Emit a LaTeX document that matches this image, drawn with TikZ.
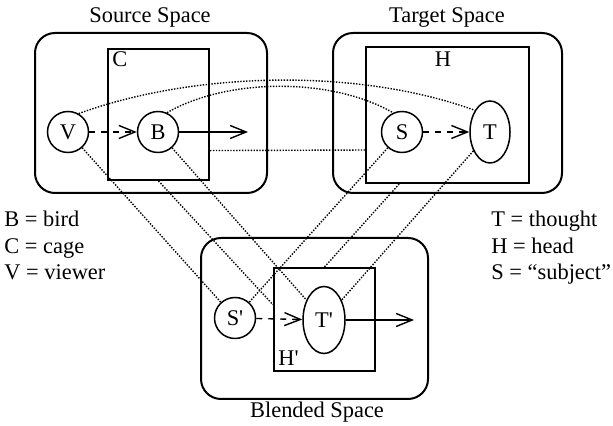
\documentclass[tikz,border=0pt]{standalone}
\usepackage{fontspec}
\setmainfont{Liberation Serif}
\usetikzlibrary{arrows.meta,shapes.geometric}

\begin{document}
\begin{tikzpicture}[x=0.5pt,y=0.5pt,font=\fontsize{11.2}{13.25}\selectfont]
                \tikzset{space/.style={draw,line width=1pt,rounded corners=10pt},
                frame/.style={draw,rectangle,line width=1pt,inner sep=0pt},
                elem/.style={draw,circle,line width=0.75pt,minimum size=20.5pt,inner sep=0pt},
                idea/.style={draw,ellipse,line width=0.75pt,minimum width=20pt,minimum height=31pt,inner sep=0pt},
                map/.style={line width=0.7pt,dash pattern=on 0.7pt off 0.75pt},
                key/.style={anchor=base west,inner sep=0pt},
                >={Straight Barb[length=8pt,width=6.5pt]}}

                \useasboundingbox (0,0) rectangle (613,426);

                \draw[space] (35,233) rectangle (267,393);
                \node[anchor=base] (srctitle) at (150,403) {Source Space};
                \node[frame,minimum width=50.5pt,minimum height=65.5pt] (C) at (158.5,311.5) {};
                \node[key] (Clbl) at (112,359) {C};
                \node[elem] (V) at (68,294) {V};
                \node[elem] (B) at (158,294) {B};
                \coordinate (Bend) at (248,294);

                \draw[space] (333,233) rectangle (562,393);
                \node[anchor=base] (tgttitle) at (447,403) {Target Space};
                \node[frame,minimum width=81.5pt,minimum height=68pt] (H) at (447.5,311) {};
                \node[anchor=base] (Hlbl) at (443,359) {H};
                \node[elem] (S) at (402,294) {S};
                \node[idea] (T) at (490,294) {T};

                \draw[space] (201,27) rectangle (428,188);
                \node[anchor=base] (blndtitle) at (317,8) {Blended Space};
                \node[frame,minimum width=50.5pt,minimum height=51.5pt] (Hb) at (324.5,106.5) {};
                \node[key] (Hblbl) at (278,60) {H\textquotesingle};
                \node[elem] (Sb) at (235,108) {S\textquotesingle};
                \node[idea,minimum width=21pt,minimum height=33.5pt] (Tb) at (324,106) {T\textquotesingle};
                \coordinate (Tbend) at (414,106);

                \draw[->,dashed,line width=0.7pt] (V) -- (B);
                \draw[->,line width=0.7pt] (B) -- (Bend);
                \draw[->,dashed,line width=0.7pt] (S) -- (T);
                \draw[->,dashed,line width=0.7pt] (Sb) -- (Tb);
                \draw[->,line width=0.7pt] (Tb) -- (Tbend);

                \draw[map] (V.60) to[out=20,in=160,looseness=0.8] (T.125);
                \draw[map] (B.65) to[out=30,in=150,looseness=0.8] (S.115);
                \draw[map] (C.-35) -- (H.203);
                \draw[map] (V) -- (Sb);
                \draw[map] (B) -- (Tb);
                \draw[map] (C.south) -- (Hb.164);
                \draw[map] (S) -- (Sb);
                \draw[map] (H.235) -- (Hb.north);
                \draw[map] (T) -- (Tb);

                \foreach \t [count=\i] in {B = bird, C = cage, V = viewer}
                    \node[key] (srckey\i) at (4,{225.5-26.5*\i}) {\t};
                \foreach \t [count=\i] in {T = thought, H = head, S = ``subject''}
                    \node[key] (tgtkey\i) at (491,{225.5-26.5*\i}) {\t};
\end{tikzpicture}
\end{document}
